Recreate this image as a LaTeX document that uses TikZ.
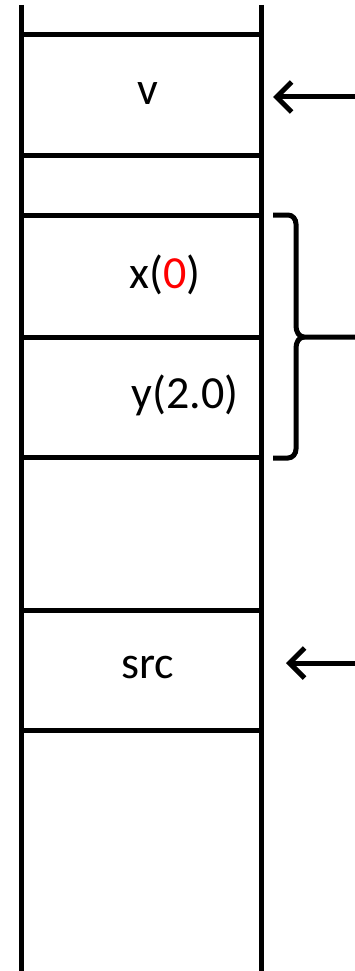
\documentclass[tikz,border=0pt]{standalone}
\usepackage{fontspec}
\setmainfont{Carlito}
\usetikzlibrary{arrows.meta}
\begin{document}
\begin{tikzpicture}[x=1pt,y=-1pt,
  rail/.style={line width=5.5pt},
  sep/.style={line width=5pt},
  lbl/.style={font=\fontsize{46}{46}\selectfont, anchor=base, inner sep=0pt},
  ptr/.style={line width=5pt, -{Straight Barb[length=15pt,width=30pt,line width=5pt]}},
  brace/.style={line width=5pt}]
\useasboundingbox (0,0) rectangle (355,971);
% stack rails
\coordinate (l0) at (21.5,5);   \coordinate (l1) at (21.5,975);
\coordinate (r0) at (261.5,5);  \coordinate (r1) at (261.5,975);
\draw[rail] (l0) -- (l1);
\draw[rail] (r0) -- (r1);
% slot separators
\foreach \yy in {35,155,215,337,457,610,730}
  \draw[sep] (21.5,\yy) -- (261.5,\yy);
% slot labels
\node[lbl] (v)   at (148,105) {v};
\node[lbl] (x)   at (165,288) {x(\textcolor{red}{0})};
\node[lbl] (y)   at (185,408) {y(2.0)};
\node[lbl] (src) at (148,678) {src};
% pointers
\coordinate (pv0) at (357,97);  \coordinate (pv1) at (273,97);
\coordinate (ps0) at (357,663); \coordinate (ps1) at (286,663);
\draw[ptr] (pv0) -- (pv1);
\draw[ptr] (ps0) -- (ps1);
% brace over x and y
\coordinate (bt) at (273,215);
\coordinate (bb) at (273,458);
\coordinate (bm) at (357,337);
\draw[brace] (bt) -- (288,215) to[out=0,in=90] (296,224) -- (296,326)
  to[out=-90,in=180] (304,337) -- (bm);
\draw[brace] (bb) -- (288,458) to[out=0,in=-90] (296,449) -- (296,348)
  to[out=90,in=180] (304,337);
\end{tikzpicture}
\end{document}
